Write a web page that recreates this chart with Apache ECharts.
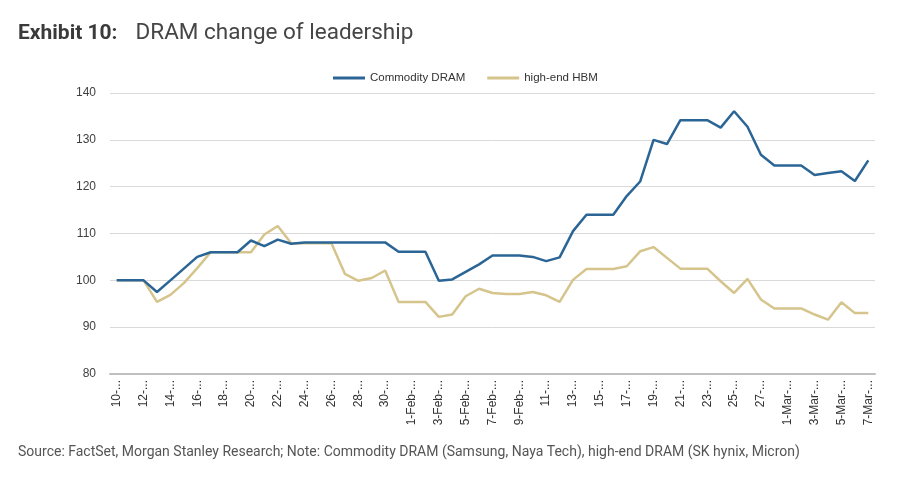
<!DOCTYPE html>
<html>
<head>
<meta charset="utf-8">
<script src="https://cdn.jsdelivr.net/npm/echarts@6/dist/echarts.min.js"></script>
<style>
html,body{margin:0;padding:0;background:#fff;}
#c{width:900px;height:478px;}
</style>
</head>
<body>
<div id="c"></div>
<script>
const categories = [
  '10-...','11-...','12-...','13-...','14-...','15-...','16-...','17-...','18-...','19-...',
  '20-...','21-...','22-...','23-...','24-...','25-...','26-...','27-...','28-...','29-...',
  '30-...','31-...','1-Feb-...','2-Feb-...','3-Feb-...','4-Feb-...','5-Feb-...','6-Feb-...','7-Feb-...','8-Feb-...',
  '9-Feb-...','10-...','11-...','12-...','13-...','14-...','15-...','16-...','17-...','18-...',
  '19-...','20-...','21-...','22-...','23-...','24-...','25-...','26-...','27-...','28-...',
  '1-Mar-...','2-Mar-...','3-Mar-...','4-Mar-...','5-Mar-...','6-Mar-...','7-Mar-...'
];
const commodityDRAM = [
  100,100,100,97.5,100,102.5,105,106,106,106,
  108.5,107.3,108.7,107.8,108.1,108.1,108.1,108.1,108.1,108.1,
  108.1,106.1,106.1,106.1,99.9,100.2,101.8,103.4,105.3,105.3,
  105.3,105.0,104.1,104.9,110.5,114.0,114.0,114.0,118.0,121.1,
  130.0,129.1,134.2,134.2,134.2,132.6,136.1,132.8,126.8,124.5,
  124.5,124.5,122.5,122.9,123.3,121.2,125.6
];
const highEndHBM = [
  100,100,100,95.4,96.9,99.4,102.6,106,106,106,
  106,109.8,111.6,107.9,107.9,107.9,107.9,101.4,99.9,100.5,
  102.1,95.4,95.4,95.4,92.2,92.7,96.6,98.2,97.3,97.1,
  97.1,97.5,96.8,95.4,100.1,102.4,102.4,102.4,103.0,106.2,
  107.1,104.8,102.5,102.5,102.5,99.8,97.3,100.3,95.9,94.0,
  94.0,94.0,92.7,91.6,95.3,93.0,93.0
];
const seriesNames = ['Commodity DRAM', 'high-end HBM'];
const yTicks = {min: 80, max: 140, interval: 10};

const narrow = '"Liberation Sans Narrow", "Liberation Sans", Arial';
const chart = echarts.init(document.getElementById('c'), null, {renderer: 'canvas'});
chart.setOption({
  backgroundColor: '#ffffff',
  animation: false,
  title: {
    left: 18, top: 22, padding: 0,
    text: '{b|Exhibit 10:}{g| }{r|DRAM change of leadership}',
    textStyle: {
      rich: {
        b: {fontFamily: 'Roboto', fontWeight: 'bold', fontSize: 21, color: '#3a3a3a'},
        g: {width: 18, fontSize: 21},
        r: {fontFamily: 'Roboto', fontWeight: 'normal', fontSize: 22.5, color: '#464646'}
      }
    }
  },
  graphic: [{
    type: 'text', left: 18, top: 445,
    style: {
      text: 'Source: FactSet, Morgan Stanley Research; Note: Commodity DRAM (Samsung, Naya Tech), high-end DRAM (SK hynix, Micron)',
      font: '14px Roboto', fill: '#555555'
    }
  }],
  legend: {
    left: 333, top: 72, padding: 0,
    icon: 'rect', itemWidth: 32, itemHeight: 3, itemGap: 22,
    textStyle: {fontFamily: narrow, fontSize: 11.5, color: '#333333'},
    data: seriesNames
  },
  grid: {left: 110, right: 25, top: 93, bottom: 104, containLabel: false},
  xAxis: {
    type: 'category', data: categories, boundaryGap: true,
    axisLine: {show: true, lineStyle: {color: '#bfbfbf', width: 2}},
    axisTick: {show: false},
    axisLabel: {interval: 1, rotate: 90, fontFamily: narrow, fontSize: 12, color: '#333333', margin: 6},
    splitLine: {show: false}
  },
  yAxis: {
    type: 'value', min: yTicks.min, max: yTicks.max, interval: yTicks.interval,
    axisLine: {show: false}, axisTick: {show: false},
    axisLabel: {fontFamily: narrow, fontSize: 12, color: '#404040', margin: 14},
    splitLine: {lineStyle: {color: '#d9d9d9', width: 1}}
  },
  series: [
    {name: seriesNames[0], type: 'line', data: commodityDRAM, showSymbol: false, symbol: 'none',
     lineStyle: {color: '#2a6595', width: 2.5}, itemStyle: {color: '#2a6595'}, z: 3},
    {name: seriesNames[1], type: 'line', data: highEndHBM, showSymbol: false, symbol: 'none',
     lineStyle: {color: '#d5c48c', width: 2.5}, itemStyle: {color: '#d5c48c'}, z: 2}
  ]
});
</script>
</body>
</html>
